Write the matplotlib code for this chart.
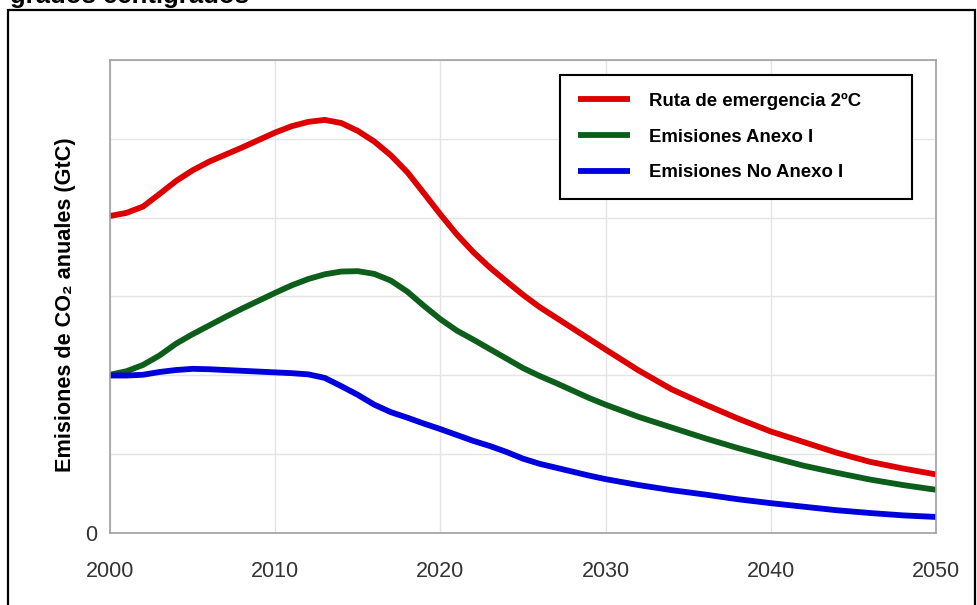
import numpy as np
import matplotlib
matplotlib.use("Agg")
import matplotlib.pyplot as plt
from matplotlib.patches import Rectangle

plt.rcParams['font.family'] = ['Liberation Sans', 'DejaVu Sans']

# datos (GtC)
years = list(range(2000, 2031)) + list(range(2032, 2051, 2))

ruta_emergencia = [8.04, 8.12, 8.28, 8.60, 8.93, 9.20, 9.42, 9.60, 9.78, 9.97, 10.16,
                   10.32, 10.43, 10.48, 10.40, 10.20, 9.93, 9.58, 9.15, 8.62, 8.08,
                   7.57, 7.12, 6.73, 6.38, 6.04, 5.73, 5.46, 5.19, 4.92, 4.65,
                   4.12, 3.64, 3.26, 2.90, 2.57, 2.30, 2.03, 1.80, 1.63, 1.48]

anexo_1 = [4.01, 4.10, 4.26, 4.50, 4.80, 5.04, 5.26, 5.48, 5.69, 5.89, 6.09,
           6.28, 6.44, 6.56, 6.63, 6.64, 6.57, 6.40, 6.12, 5.76, 5.42,
           5.13, 4.90, 4.66, 4.42, 4.18, 3.98, 3.80, 3.61, 3.42, 3.25,
           2.94, 2.67, 2.40, 2.15, 1.92, 1.70, 1.52, 1.35, 1.21, 1.09]

no_anexo_1 = [3.99, 3.99, 4.01, 4.08, 4.13, 4.16, 4.15, 4.13, 4.11, 4.09, 4.07,
              4.05, 4.02, 3.93, 3.72, 3.50, 3.25, 3.06, 2.92, 2.77, 2.63,
              2.48, 2.33, 2.20, 2.05, 1.88, 1.75, 1.65, 1.55, 1.45, 1.36,
              1.21, 1.08, 0.97, 0.85, 0.75, 0.66, 0.57, 0.50, 0.44, 0.40]

series = [("Ruta de emergencia 2ºC", ruta_emergencia, "#dc0000"),
          ("Emisiones Anexo I", anexo_1, "#0e5e1b"),
          ("Emisiones No Anexo I", no_anexo_1, "#0000dc")]

xticks = [2000, 2010, 2020, 2030, 2040, 2050]
yticks = [0, 2, 4, 6, 8, 10, 12]

fig = plt.figure(figsize=(9.78, 6.05), dpi=100)
ax = fig.add_axes([0.1125, 0.1195, 0.8445, 0.7813])

for name, vals, c in series:
    ax.plot(years, vals, color=c, lw=4.2, label=name, solid_capstyle='butt', solid_joinstyle='round')

ax.set_xlim(2000, 2050)
ax.set_ylim(0, 12)
ax.set_xticks(xticks)
ax.set_xticklabels([str(y) for y in xticks], fontsize=15.5, color="#333333")
ax.set_yticks(yticks)
ax.set_yticklabels(["0"] + [""] * (len(yticks) - 1), fontsize=15.5, color="#333333")
ax.tick_params(axis='x', length=0, pad=20.5)
ax.tick_params(axis='y', length=0, pad=9)
ax.grid(True, color="#e4e4e4", lw=1)
ax.set_axisbelow(True)
for s in ax.spines.values():
    s.set_color("#a0a0a0")
    s.set_linewidth(1.2)

ax.set_ylabel("Emisiones de CO₂ anuales (GtC)", fontsize=15.6, fontweight='bold')
ax.yaxis.set_label_coords(-0.041, 0.482)

leg = ax.legend(loc='upper left', bbox_to_anchor=(0.545, 0.968, 0.426, 0.0), mode='expand',
                borderaxespad=0, fancybox=False, edgecolor='black', framealpha=1,
                handlelength=2.8, handletextpad=1.05, labelspacing=1.0, borderpad=0.95,
                prop={'weight': 'bold', 'size': 13.4})
leg.get_frame().set_linewidth(1.5)

# marco exterior y titulo cortado
fig.patches.append(Rectangle((8 / 978, -0.05), 967 / 978, 0.05 + (605 - 10) / 605,
                             transform=fig.transFigure, fill=False, edgecolor='black', lw=1.6))
fig.text(10 / 978, 1 - 3 / 605, "grados centígrados", fontsize=18.5, fontweight='bold', va='baseline')

fig.savefig("out.png", dpi=100)
